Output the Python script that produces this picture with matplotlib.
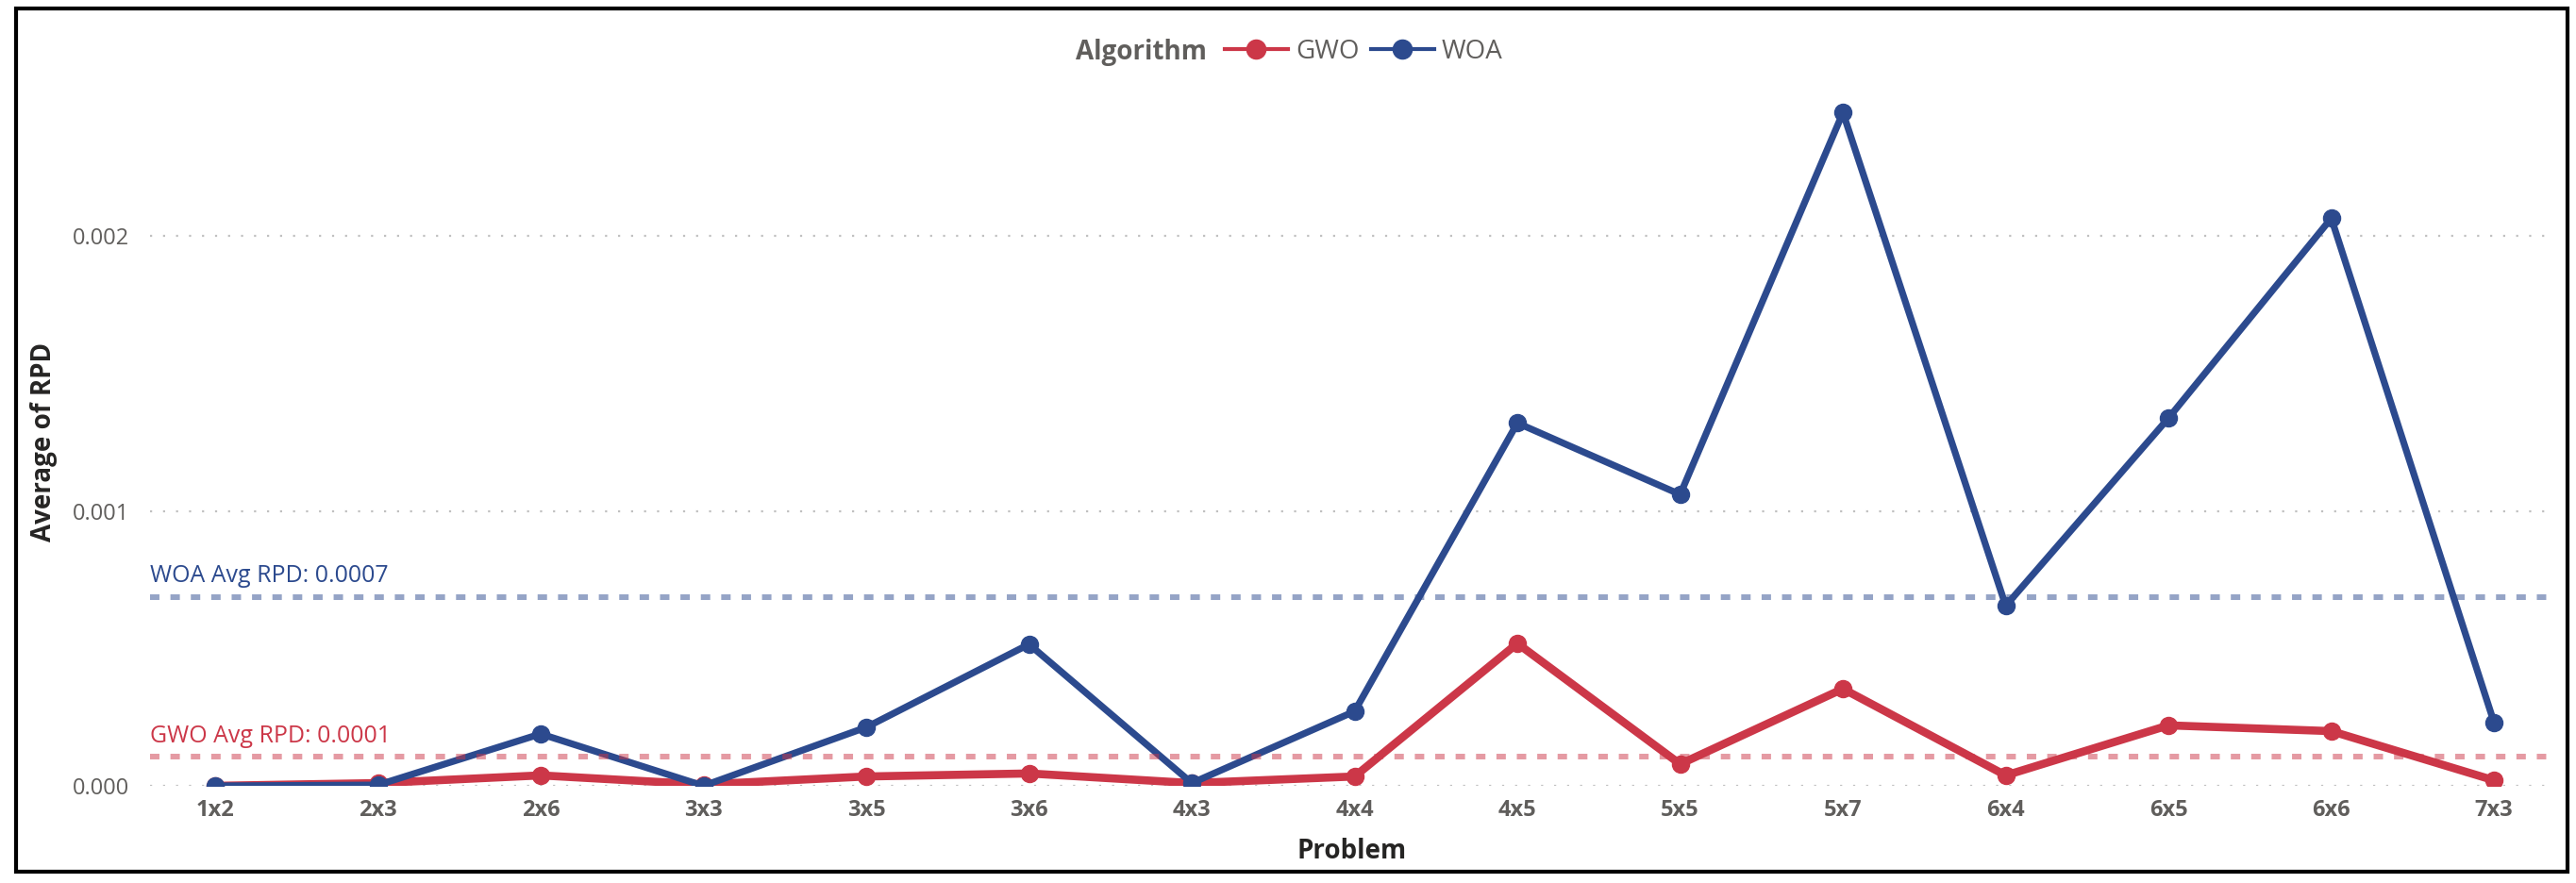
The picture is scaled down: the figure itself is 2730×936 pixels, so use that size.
import numpy as np
import matplotlib
matplotlib.use("Agg")
import matplotlib.pyplot as plt
from matplotlib.lines import Line2D
from matplotlib.patches import Rectangle

plt.rcParams['font.family'] = ['Open Sans', 'DejaVu Sans']

# data
problems = ['1x2', '2x3', '2x6', '3x3', '3x5', '3x6', '4x3', '4x4',
            '4x5', '5x5', '5x7', '6x4', '6x5', '6x6', '7x3']
gwo_rpd = [0.0, 0.00001, 0.000038, 0.000005, 0.000034, 0.000045, 0.00001, 0.000034,
           0.000518, 0.000079, 0.000353, 0.000038, 0.00022, 0.000199, 0.00002]
woa_rpd = [0.0, 0.000003, 0.000189, 0.0, 0.000213, 0.000515, 0.00001, 0.000271,
           0.00132, 0.00106, 0.002449, 0.000655, 0.001338, 0.002065, 0.00023]
series_names = ['GWO', 'WOA']
series_colors = ['#CC3748', '#2C4A8E']

W, H, DPI = 2730, 936, 100
fig = plt.figure(figsize=(W / DPI, H / DPI), dpi=DPI)

# axes box in pixels: left 159, right 2707, top 90, bottom 833
ax = fig.add_axes([159 / W, 1 - 833 / H, (2707 - 159) / W, (833 - 90) / H])

x = np.arange(len(problems))

# gridlines
for yv in [0.0, 0.001, 0.002]:
    ax.axhline(yv, color='#C0C0C0', lw=1.6, linestyle=(0, (1, 5.2)), zorder=1)

ax.plot(x, gwo_rpd, color=series_colors[0], lw=6.2, marker='o', markersize=13,
        solid_joinstyle='round', zorder=3)
ax.plot(x, woa_rpd, color=series_colors[1], lw=5.2, marker='o', markersize=13,
        solid_joinstyle='round', zorder=4)

ax.set_xlim(-0.4, 14.37)
ax.set_ylim(0, 0.00255)

# average reference lines
for vals, name, col in [(woa_rpd, 'WOA', series_colors[1]), (gwo_rpd, 'GWO', series_colors[0])]:
    m = np.mean(vals)
    ax.axhline(m, color=col, alpha=0.5, lw=4.3, linestyle=(0, (1.67, 1.95)), zorder=5)
    ax.annotate(f'{name} Avg RPD: {m:.4f}', xy=(-0.4, m), xytext=(0, 11),
                textcoords='offset points', ha='left', va='baseline',
                fontsize=18, color=col)

ax.set_xticks(x)
ax.set_xticklabels(problems, fontsize=17, color='#605E5C', fontweight='bold')
ax.set_yticks([0.0, 0.001, 0.002])
ax.set_yticklabels(['0.000', '0.001', '0.002'], fontsize=17, color='#605E5C')
ax.tick_params(axis='both', length=0)
ax.tick_params(axis='y', pad=16)
ax.tick_params(axis='x', pad=10)
for s in ax.spines.values():
    s.set_visible(False)

ax.set_xlabel('Problem', fontsize=20, fontweight='bold', color='#252423', va='center')
ax.xaxis.set_label_coords(0.5, -0.093)
ax.set_ylabel('Average of RPD', fontsize=20, fontweight='bold', color='#252423', va='center')
ax.yaxis.set_label_coords(-0.044, 0.49)

# legend at top
fig.text(1140 / W, 1 - 55 / H, 'Algorithm', fontsize=20, fontweight='bold',
         color='#605E5C', ha='left', va='center')
handles = [Line2D([], [], color=c, lw=3, marker='o', markersize=14.5) for c in series_colors]
leg = fig.legend(handles, series_names, loc='center left',
                 bbox_to_anchor=(1298 / W, 1 - 55 / H), ncol=2, frameon=False,
                 fontsize=20, handlelength=2.4, handletextpad=0.3, columnspacing=0.45,
                 borderpad=0, borderaxespad=0)
for t in leg.get_texts():
    t.set_color('#605E5C')

# outer border
fig.patches.append(Rectangle((17 / W, 1 - 924 / H), (2721 - 17) / W, (924 - 9) / H,
                             transform=fig.transFigure, fill=False,
                             edgecolor='black', lw=3))

fig.savefig('out.png', dpi=DPI)
